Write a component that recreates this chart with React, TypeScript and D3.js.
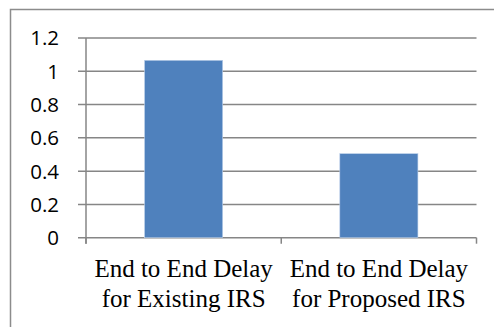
import React from "react";
import * as d3 from "d3";

const categories: string[][] = [
  ["End to End Delay", "for Existing IRS"],
  ["End to End Delay", "for Proposed IRS"],
];
const delays: number[] = [1.066, 0.505];
const yTicks: number[] = [0, 0.2, 0.4, 0.6, 0.8, 1, 1.2];

const W = 494;
const H = 327;
const plot = { left: 86, right: 476.5, top: 38, bottom: 237.7 };

const serifStyle = { fontFamily: '"Liberation Serif"', fontSize: "25px" };
const sansStyle = { fontFamily: '"Open Sans"', fontSize: "20.5px" };

export default function App() {
  const x = d3
    .scaleBand<number>()
    .domain(d3.range(categories.length))
    .range([plot.left, plot.right])
    .paddingInner(0.6)
    .paddingOuter(0.3);
  const y = d3.scaleLinear().domain([0, 1.2]).range([plot.bottom, plot.top]);
  const step = x.step();
  const grid = "#868686";

  return (
    <div style={{ position: "fixed", left: 0, top: 0 }}>
      <svg width={W} height={H} style={{ display: "block", background: "#fff" }}>
        {/* chart frame */}
        <rect x={10.5} y={9.5} width={560} height={400} fill="#fff" stroke="#8c8c8c" strokeWidth={1.5} />

        {/* horizontal gridlines with y tick marks */}
        {yTicks.map((t) => (
          <g key={t}>
            <line x1={78} x2={plot.right} y1={y(t)} y2={y(t)} stroke={grid} strokeWidth={1.5} />
            <text x={59} y={y(t)} dy="0.36em" textAnchor="end" style={sansStyle} fill="#000">
              {d3.format("~g")(t)}
            </text>
          </g>
        ))}

        {/* bars */}
        {delays.map((v, i) => (
          <rect
            key={i}
            x={x(i)!}
            y={y(v)}
            width={x.bandwidth()}
            height={y(0) - y(v)}
            fill="#4F81BD"
            stroke="#bcd0ea"
            strokeWidth={0.6}
          />
        ))}

        {/* value axis */}
        <line x1={plot.left} x2={plot.left} y1={plot.top} y2={plot.bottom + 6} stroke={grid} strokeWidth={1.5} />
        {/* category axis ticks */}
        {d3.range(categories.length + 1).map((k) => (
          <line
            key={k}
            x1={plot.left + k * step}
            x2={plot.left + k * step}
            y1={plot.bottom}
            y2={plot.bottom + 6}
            stroke={grid}
            strokeWidth={1.5}
          />
        ))}

        {/* category labels, two lines each */}
        {categories.map((lines, i) => {
          const cx = x(i)! + x.bandwidth() / 2;
          return lines.map((ln, j) => (
            <text key={`${i}-${j}`} x={cx} y={277 + j * 30} textAnchor="middle" style={serifStyle} fill="#000">
              {ln}
            </text>
          ));
        })}
      </svg>
    </div>
  );
}
